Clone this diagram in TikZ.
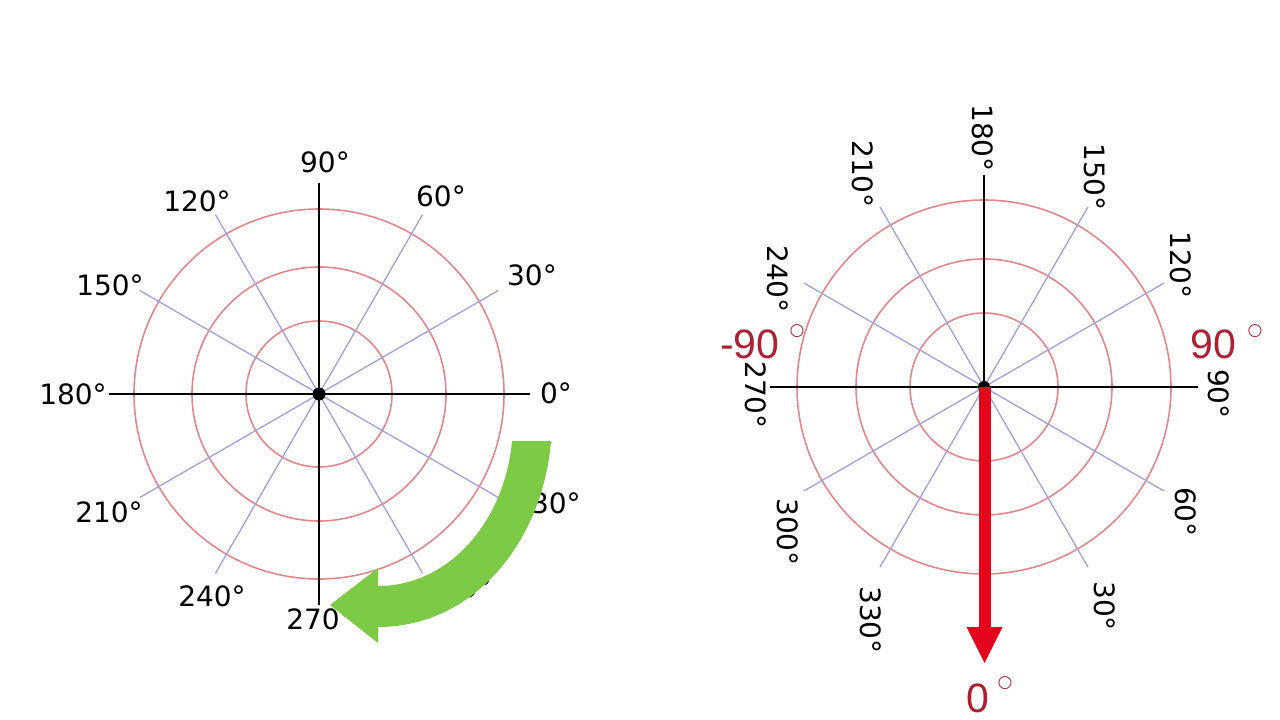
\documentclass[tikz,border=0pt]{standalone}
\usepackage{fontspec}
\usetikzlibrary{calc}
\setmainfont{DejaVu Sans}
\newfontfamily\redfont{Liberation Sans}
\definecolor{ringred}{RGB}{228,135,138}
\definecolor{spokeblue}{RGB}{160,160,228}
\definecolor{lblred}{RGB}{172,32,48}
\definecolor{arrowred}{RGB}{228,4,28}
\definecolor{arrowgreen}{RGB}{124,202,70}
\tikzset{
  ring/.style={draw=ringred, line width=1.6pt},
  spoke/.style={draw=spokeblue, line width=1.3pt},
  axisline/.style={draw=black, line width=2pt},
  deglbl/.style={font=\fontsize{28}{28}\selectfont, inner sep=0pt},
  rdeglbl/.style={deglbl, rotate=-90},
  bigred/.style={font=\redfont\fontsize{41}{41}\selectfont, text=lblred, inner sep=0pt, anchor=base west},
  degmark/.style={font=\fontsize{17}{17}\selectfont, text=lblred, inner sep=0pt}
}
\begin{document}
\begin{tikzpicture}[x=1pt,y=-1pt]
\useasboundingbox (0,0) rectangle (1280,720);
% ---------------- left polar grid ----------------
\coordinate (L) at (319,394);
\foreach \r in {73,127,185} \draw[ring] (L) circle[radius=\r];
\foreach \a in {30,60,120,150,210,240,300,330}
  \draw[spoke] (L) -- ++(\a:207);
\draw[axisline] ($(L)+(-210,0)$) -- ($(L)+(211,0)$);
\draw[axisline] ($(L)+(0,-211)$) -- ($(L)+(0,211)$);
\fill[black] (L) circle[radius=6.5];
\node[deglbl] (l90)  at (325,162) {90°};
\node[deglbl] (l60)  at (441,196) {60°};
\node[deglbl] (l30)  at (532,275) {30°};
\node[deglbl] (l0)   at (556,393) {0°};
\node[deglbl] (l330) at (547,503) {330°};
\node[deglbl] (l300) at (458,587) {300°};
\node[deglbl] (l270) at (320,619) {270°};
\node[deglbl] (l240) at (212,596) {240°};
\node[deglbl] (l210) at (109,512) {210°};
\node[deglbl] (l180) at (73,394)  {180°};
\node[deglbl] (l150) at (110,285) {150°};
\node[deglbl] (l120) at (197,201) {120°};
% green curved arrow
\fill[arrowgreen] (512,441) -- (551,441)
  .. controls (543,540) and (475,627) .. (378,627)
  -- (378,643) -- (330,605) -- (378,568) -- (378,586)
  .. controls (450,586) and (505,520) .. (512,441) -- cycle;
% ---------------- right polar grid ----------------
\coordinate (R) at (984,387);
\foreach \r in {74,128,187} \draw[ring] (R) circle[radius=\r];
\foreach \a in {30,60,120,150,210,240,300,330}
  \draw[spoke] (R) -- ++(\a:208);
\draw[axisline] ($(R)+(-214,0)$) -- ($(R)+(214,0)$);
\draw[axisline] ($(R)+(0,-212)$) -- ($(R)+(0,212)$);
\fill[black] (R) circle[radius=6];
\node[rdeglbl] (r180) at (983,138)  {180°};
\node[rdeglbl] (r150) at (1095,177) {150°};
\node[rdeglbl] (r120) at (1181,265) {120°};
\node[rdeglbl] (r90)  at (1219,394) {90°};
\node[rdeglbl] (r60)  at (1186,512) {60°};
\node[rdeglbl] (r30)  at (1105,606) {30°};
\node[rdeglbl] (r330) at (871,620)  {330°};
\node[rdeglbl] (r300) at (788,532)  {300°};
\node[rdeglbl] (r270) at (756,395)  {270°};
\node[rdeglbl] (r240) at (778,279)  {240°};
\node[rdeglbl] (r210) at (863,174)  {210°};
% red arrow
\coordinate (tipR) at (984.5,663);
\fill[arrowred] (978.5,387) rectangle (990.5,629);
\fill[arrowred] (966.5,627) -- (1002.5,627) -- (tipR) -- cycle;
% red labels
\node[bigred] (m90) at (720,358) {-90};
\node[degmark] (m90d) at (797,331) {○};
\node[bigred] (p90) at (1190,358) {90};
\node[degmark] (p90d) at (1255,331) {○};
\node[bigred] (z0) at (966,712) {0};
\node[degmark] (z0d) at (1005,683) {○};
\end{tikzpicture}
\end{document}
